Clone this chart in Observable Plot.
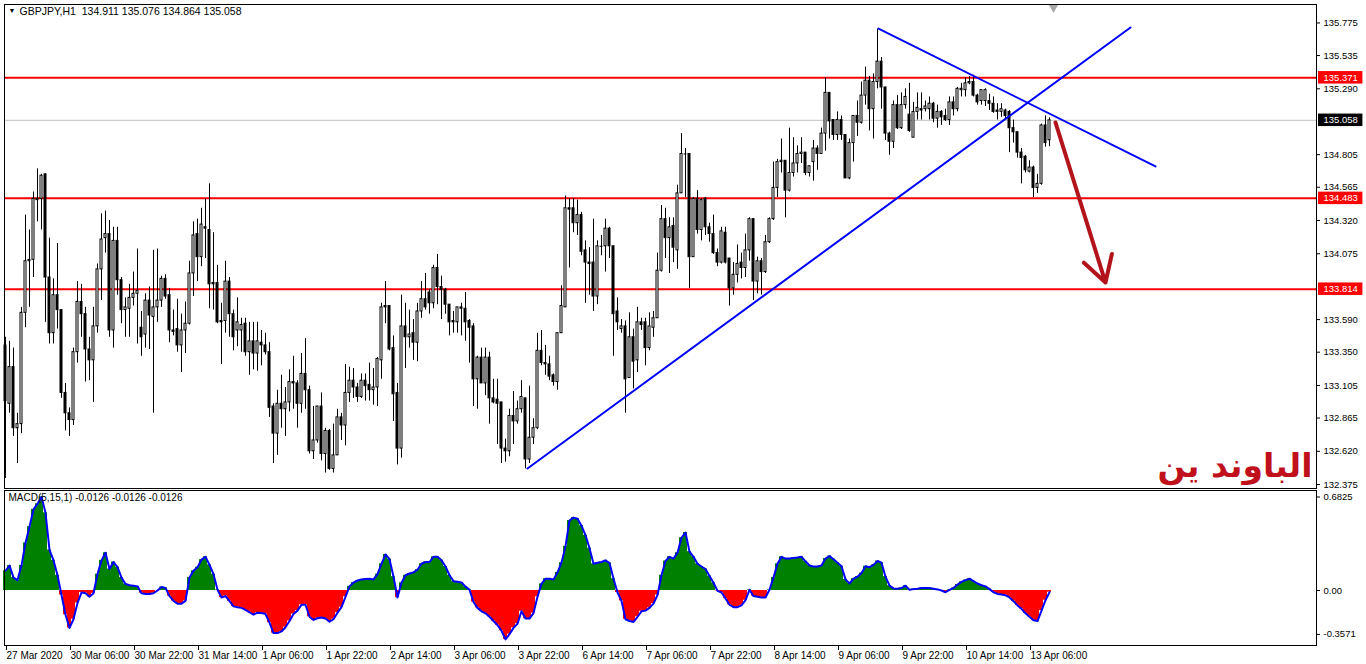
<!DOCTYPE html>
<html><head><meta charset="utf-8">
<script src="https://cdn.jsdelivr.net/npm/d3@7"></script>
<script src="https://cdn.jsdelivr.net/npm/@observablehq/plot@0.6"></script>
<style>
html,body{margin:0;padding:0;background:#fff;}
#chart{position:relative;width:1366px;height:664px;overflow:hidden;background:#fff;}
#chart svg{position:absolute;left:0;}
</style></head><body><div id="chart"></div>
<script>
const symbolHeader = "GBPJPY,H1  134.911 135.076 134.864 135.058";
const macdHeader = "MACD(5,15,1) -0.0126 -0.0126 -0.0126";
const annotation = "الباوند ين";

const open = [133.40,132.97,133.24,132.79,132.82,133.64,134.02,134.03,134.47,134.48,
134.66,133.90,133.49,133.77,133.66,133.05,132.90,132.85,133.35,133.72,
133.63,133.37,133.29,133.54,133.96,134.19,134.22,133.51,134.17,133.88,
133.66,133.67,133.75,133.78,133.53,133.48,133.73,133.61,133.68,133.73,
133.89,133.77,133.51,133.52,133.40,133.51,133.56,133.93,134.22,134.05,
134.27,134.25,133.86,133.86,133.58,133.58,133.87,133.63,133.51,133.51,
133.56,133.35,133.43,133.34,133.42,133.40,133.35,132.95,132.75,132.97,
132.93,132.98,133.13,133.12,132.97,133.19,133.07,132.62,132.70,132.95,
132.60,132.77,132.49,132.59,132.87,132.81,133.05,133.14,133.09,133.02,
133.14,133.11,133.07,133.09,133.29,133.69,133.69,133.38,133.05,132.64,
133.54,133.46,133.49,133.42,133.65,133.74,133.79,133.71,133.97,133.83,
133.81,133.70,133.58,133.57,133.68,133.67,133.58,133.54,133.15,133.31,
133.12,133.31,133.01,133.00,132.98,132.64,132.62,132.88,132.84,132.93,
133.01,132.56,132.72,132.79,133.36,133.27,133.26,133.18,133.13,133.49,
133.68,134.41,134.41,134.30,134.36,134.10,134.01,134.01,133.76,134.13,
134.13,134.26,134.13,133.65,133.52,133.54,133.16,133.46,133.29,133.57,
133.57,133.38,133.53,133.60,133.95,134.33,134.19,134.28,134.10,134.52,
134.81,134.81,134.05,134.48,134.25,134.48,134.27,134.22,134.08,134.01,
134.23,134.04,133.82,133.92,134.01,133.97,134.10,134.33,133.87,134.02,
133.94,134.16,134.33,134.56,134.75,134.76,134.54,134.67,134.74,134.81,
134.82,134.67,134.75,134.85,134.81,134.96,135.26,135.06,134.95,135.06,
134.95,134.63,134.89,135.09,135.04,135.24,135.35,135.14,135.34,135.49,
135.30,134.96,134.90,135.17,135.00,135.17,135.10,134.93,135.12,135.14,
135.14,135.14,135.18,135.07,135.12,135.09,135.06,135.19,135.14,135.28,
135.28,135.33,135.34,135.24,135.20,135.20,135.20,135.18,135.13,135.12,
135.13,135.12,135.00,134.97,134.82,134.79,134.68,134.71,134.56,134.59,
135.02,134.911];

const high = [133.46,133.43,133.38,132.90,133.68,134.36,134.25,134.53,134.70,134.66,
134.66,134.19,133.89,134.15,133.66,133.12,132.94,133.38,133.87,133.85,
133.68,133.46,133.68,134.00,134.37,134.39,134.32,134.27,134.27,133.90,
133.75,133.85,133.94,134.11,133.65,133.78,133.83,134.10,134.11,133.91,
133.92,133.82,133.66,133.74,133.63,133.72,134.02,134.31,134.33,134.41,
134.48,134.59,134.23,133.99,133.71,134.02,133.90,133.66,133.75,133.60,
133.60,133.57,133.57,133.57,133.51,133.49,133.42,132.97,133.07,133.18,
133.09,133.22,133.32,133.14,133.34,133.45,133.10,132.95,132.95,133.05,
132.79,132.78,132.82,132.93,132.90,133.26,133.24,133.23,133.12,133.19,
133.19,133.27,133.23,133.31,133.71,133.87,133.69,133.47,133.12,133.77,
133.71,133.66,133.59,133.71,133.87,133.93,133.81,133.99,134.07,133.91,
133.82,133.70,133.65,133.68,133.71,133.79,133.59,133.56,133.32,133.38,
133.38,133.35,133.15,133.15,132.98,132.71,132.93,133.06,132.99,133.14,
133.01,133.10,132.86,133.49,133.51,133.40,133.32,133.19,133.49,133.84,
134.50,134.48,134.48,134.47,134.38,134.17,134.12,134.33,134.17,134.21,
134.33,134.27,134.13,133.75,133.59,133.58,133.64,133.52,133.68,133.60,
133.60,133.64,133.65,134.08,134.43,134.41,134.34,134.34,134.58,134.96,
134.85,134.81,134.49,134.54,134.48,134.49,134.30,134.36,134.11,134.27,
134.27,134.04,134.01,134.14,134.08,134.22,134.34,134.33,134.05,134.04,
134.21,134.34,134.75,134.77,134.92,134.76,135.00,134.93,134.87,134.93,
134.82,134.72,134.91,134.87,135.00,135.37,135.26,135.06,135.12,135.09,
134.95,134.92,135.09,135.20,135.34,135.45,135.38,135.40,135.73,135.52,
135.30,134.97,135.20,135.24,135.26,135.29,135.33,135.19,135.26,135.26,
135.20,135.23,135.19,135.17,135.13,135.14,135.23,135.23,135.30,135.33,
135.37,135.38,135.39,135.25,135.28,135.29,135.25,135.23,135.18,135.18,
135.14,135.13,135.06,134.97,134.85,134.80,134.76,134.72,134.66,135.03,
135.09,135.076];

const low = [132.42,132.90,132.73,132.53,132.75,133.53,133.68,133.90,134.31,134.25,
133.57,133.41,133.41,133.52,133.01,132.77,132.73,132.81,133.27,133.46,
133.13,133.14,132.98,133.49,133.73,134.08,133.46,133.38,133.77,133.56,
133.46,133.46,133.69,133.41,133.32,133.38,133.37,132.90,133.57,133.68,
133.74,133.42,133.47,133.35,133.20,133.34,133.55,133.76,133.87,133.98,
134.04,133.67,133.66,133.56,133.26,133.49,133.46,133.36,133.39,133.35,
133.32,133.18,133.22,133.21,133.25,133.33,132.87,132.53,132.59,132.79,
132.73,132.91,132.93,132.79,132.90,132.93,132.60,132.56,132.68,132.55,
132.46,132.48,132.46,132.59,132.70,132.66,132.98,133.01,132.98,133.01,
132.99,132.99,132.96,132.95,133.15,133.56,133.36,132.84,132.52,132.57,
133.23,133.38,133.29,133.28,133.60,133.66,133.63,133.67,133.70,133.59,
133.63,133.47,133.49,133.49,133.47,133.43,133.27,132.95,132.93,133.12,
133.03,132.82,132.97,132.67,132.53,132.54,132.58,132.67,132.82,132.90,
132.49,132.53,132.67,132.78,133.25,133.18,133.14,133.10,133.07,133.49,
133.68,133.97,134.23,134.21,134.06,133.71,133.77,133.65,133.70,134.06,
133.94,134.04,133.32,133.51,133.49,132.90,133.16,133.08,133.20,133.51,
133.25,133.36,133.46,133.60,133.94,134.04,133.93,134.01,133.96,134.52,
134.49,133.82,134.05,134.22,134.17,134.21,134.16,134.07,133.98,134.00,
134.00,133.69,133.77,133.86,133.89,133.90,134.02,133.73,133.78,133.77,
133.93,134.15,134.32,134.49,134.67,134.34,134.53,134.64,134.67,134.74,
134.65,134.64,134.61,134.69,134.81,134.83,134.92,134.91,134.91,134.91,
134.63,134.62,134.75,134.94,135.03,135.17,134.98,134.92,135.29,135.14,
134.91,134.80,134.85,134.99,134.99,135.14,134.97,134.93,135.06,135.06,
135.12,135.06,135.04,135.00,135.02,135.05,135.02,135.09,135.12,135.23,
135.23,135.32,135.23,135.17,135.17,135.16,135.13,135.11,135.06,135.08,
135.06,134.82,134.89,134.78,134.59,134.67,134.67,134.49,134.52,134.58,
134.86,134.864];

const close = [132.99,133.24,132.79,132.82,133.64,134.02,134.03,134.48,134.48,134.65,
133.90,133.49,133.77,133.66,133.05,132.90,132.85,133.35,133.72,133.63,
133.37,133.29,133.54,133.96,134.18,134.22,133.51,134.17,133.88,133.66,
133.68,133.75,133.78,133.80,133.46,133.73,133.62,133.68,133.73,133.89,
133.76,133.51,133.50,133.40,133.51,133.56,133.93,134.21,134.05,134.29,
134.26,133.85,133.85,133.57,133.57,133.87,133.63,133.46,133.57,133.55,
133.35,133.43,133.34,133.43,133.40,133.35,132.94,132.75,132.97,132.93,
132.98,133.13,133.12,132.97,133.19,133.07,132.62,132.70,132.95,132.60,
132.77,132.49,132.59,132.87,132.81,133.05,133.14,133.09,133.02,133.14,
133.10,133.07,133.09,133.30,133.68,133.68,133.37,133.04,132.64,133.54,
133.46,133.48,133.42,133.65,133.74,133.68,133.71,133.97,133.83,133.81,
133.70,133.57,133.57,133.68,133.67,133.57,133.53,133.15,133.31,133.12,
133.31,133.01,132.98,132.97,132.64,132.62,132.88,132.84,132.93,133.02,
132.56,132.72,132.79,133.36,133.27,133.26,133.17,133.13,133.49,133.69,
134.41,134.40,134.30,134.36,134.09,134.01,134.00,133.76,134.13,134.13,
134.26,134.13,133.63,133.57,133.54,133.15,133.46,133.28,133.57,133.55,
133.38,133.54,133.60,133.95,134.33,134.19,134.27,134.12,134.52,134.81,
134.81,134.05,134.48,134.25,134.47,134.27,134.22,134.08,134.01,134.24,
134.01,133.82,133.92,134.00,133.97,134.10,134.33,133.87,134.02,133.94,
134.16,134.33,134.56,134.75,134.76,134.54,134.67,134.74,134.81,134.82,
134.67,134.72,134.85,134.81,134.96,135.26,135.05,134.95,135.06,134.95,
134.63,134.89,135.09,135.04,135.24,135.35,135.14,135.34,135.49,135.30,
134.96,134.90,135.17,135.00,135.17,135.23,134.98,135.12,135.15,135.13,
135.16,135.18,135.07,135.12,135.08,135.06,135.19,135.14,135.29,135.29,
135.33,135.34,135.24,135.19,135.28,135.28,135.18,135.12,135.12,135.14,
135.09,135.00,134.97,134.82,134.78,134.69,134.71,134.56,134.59,135.02,
134.89,135.058];

const macd = [0.144,0.182,0.094,0.076,0.182,0.347,0.466,0.592,0.633,0.6825,
0.567,0.296,0.220,0.111,-0.033,-0.177,-0.273,-0.210,-0.091,-0.015,
-0.020,-0.046,-0.020,0.119,0.220,0.276,0.157,0.208,0.170,0.094,
0.048,0.038,0.035,0.030,-0.020,-0.025,-0.025,-0.020,0.000,0.025,
0.018,-0.041,-0.076,-0.096,-0.096,-0.076,0.094,0.144,0.170,0.225,
0.246,0.187,0.119,0.005,-0.051,-0.041,-0.078,-0.116,-0.122,-0.127,
-0.142,-0.159,-0.177,-0.162,-0.165,-0.172,-0.235,-0.311,-0.311,-0.299,
-0.268,-0.223,-0.172,-0.147,-0.104,-0.104,-0.192,-0.215,-0.203,-0.197,
-0.205,-0.228,-0.210,-0.162,-0.122,-0.046,0.030,0.058,0.073,0.081,
0.084,0.086,0.081,0.119,0.195,0.263,0.228,0.101,-0.051,0.056,
0.111,0.124,0.132,0.152,0.195,0.208,0.208,0.246,0.246,0.220,
0.175,0.111,0.068,0.063,0.058,0.028,0.005,-0.084,-0.127,-0.152,
-0.167,-0.192,-0.223,-0.253,-0.294,-0.3571,-0.319,-0.273,-0.243,-0.152,
-0.205,-0.205,-0.165,-0.046,0.048,0.086,0.086,0.081,0.132,0.203,
0.322,0.511,0.532,0.524,0.473,0.403,0.309,0.195,0.203,0.208,
0.220,0.200,0.086,-0.015,-0.076,-0.210,-0.223,-0.230,-0.192,-0.152,
-0.147,-0.127,-0.096,-0.033,0.111,0.215,0.246,0.233,0.276,0.385,
0.423,0.284,0.246,0.195,0.175,0.157,0.106,0.056,-0.003,-0.015,
-0.058,-0.104,-0.122,-0.122,-0.109,-0.071,0.005,-0.041,-0.046,-0.051,
-0.051,0.005,0.094,0.195,0.246,0.233,0.233,0.238,0.241,0.246,
0.213,0.182,0.175,0.175,0.182,0.233,0.251,0.228,0.203,0.177,
0.081,0.051,0.086,0.101,0.127,0.177,0.170,0.187,0.215,0.203,
0.101,0.035,0.015,0.013,0.018,0.035,0.005,0.010,0.013,0.018,
0.018,0.018,0.013,0.008,0.000,-0.013,0.005,0.018,0.043,0.063,
0.076,0.086,0.068,0.051,0.038,0.030,0.010,-0.013,-0.025,-0.030,
-0.035,-0.051,-0.078,-0.109,-0.134,-0.167,-0.192,-0.218,-0.223,-0.147,
-0.071,-0.0126];

const timeTickIndex = [0,16,32,48,64,80,96,112,128,144,160,176,192,208,224,240,256];
const timeTickLabels = ["27 Mar 2020","30 Mar 06:00","30 Mar 22:00","31 Mar 14:00","1 Apr 06:00",
  "1 Apr 22:00","2 Apr 14:00","3 Apr 06:00","3 Apr 22:00","6 Apr 14:00","7 Apr 06:00",
  "7 Apr 22:00","8 Apr 14:00","9 Apr 06:00","9 Apr 22:00","10 Apr 14:00","13 Apr 06:00"];
const priceTicks = [135.775,135.535,135.290,134.805,134.565,134.320,134.075,133.590,133.350,133.105,132.865,132.620,132.375];
const levelLines = [135.371, 134.483, 133.814];
const currentPrice = 135.058;
const priceDomain = [132.346, 135.911];
const macdDomain = [-0.3571, 0.6825];
const macdAxisTicks = [0.6825, 0];
const macdAxisBottom = [-0.3571];
const risingTrend = [{bar: 130.5, price: 132.493}, {bar: 281.25, price: 135.742}];
const fallingTrend = [{bar: 218.25, price: 135.734}, {bar: 287.5, price: 134.718}];
const arrowPath = [{bar1: 262.5, price1: 135.042, bar2: 275, price2: 133.863}];

const bars = open.map((o, i) => ({i, o, h: high[i], l: low[i], c: close[i]}));
const macdBars = macd.map((v, i) => ({i, v}));
const xDomain = [-0.25, 327.75];
const boxX1 = xDomain[1] + 0.5, boxX2 = xDomain[1] + 11.6, boxXc = (boxX1 + boxX2) / 2;
const boxHalf = 0.046;
const priceBoxes = [
  ...levelLines.map(p => ({p, fill: "#ff0000"})),
  {p: currentPrice, fill: "#000000"}
];
const font = "'Liberation Sans', Arial, sans-serif";
const W = 1366;

const mainPlot = Plot.plot({
  width: W, height: 490,
  marginLeft: 4, marginRight: 50, marginTop: 4, marginBottom: 2,
  x: {domain: xDomain, axis: null},
  y: {domain: priceDomain},
  style: {fontFamily: font, fontSize: "10px", background: "transparent", color: "#000"},
  marks: [
    Plot.ruleY([currentPrice], {stroke: "#c0c0c0"}),
    Plot.ruleY(levelLines, {stroke: "#ff0000", strokeWidth: 2}),
    Plot.ruleX(bars, {x: "i", y1: "l", y2: "h", stroke: "#000"}),
    Plot.rect(bars, {x1: d => d.i - 0.25, x2: d => d.i + 0.25, y1: "o", y2: "c",
      fill: d => d.c >= d.o ? "#fff" : "#000", stroke: "#000"}),
    Plot.ruleY(bars.filter(d => Math.abs(d.c - d.o) < 0.006), {y: "c", x1: d => d.i - 0.375, x2: d => d.i + 0.375, stroke: "#000"}),
    Plot.line(risingTrend, {x: "bar", y: "price", stroke: "#0000ff", strokeWidth: 2}),
    Plot.line(fallingTrend, {x: "bar", y: "price", stroke: "#0000ff", strokeWidth: 2}),
    Plot.arrow(arrowPath, {x1: "bar1", y1: "price1", x2: "bar2", y2: "price2", stroke: "#b3141c", strokeWidth: 4, headLength: 11}),
    Plot.dot([close.length], {x: d => d, frameAnchor: "top", dy: 3, symbol: "triangle", rotate: 180, r: 3.5, fill: "#a8a8a8", stroke: null}),
    Plot.frame({stroke: "#000"}),
    Plot.axisY(priceTicks, {anchor: "right", tickSize: 3, tickPadding: 4, tickFormat: d => d.toFixed(3), fontSize: 9.5, label: null}),
    Plot.rect(priceBoxes, {x1: boxX1, x2: boxX2, y1: d => d.p - boxHalf, y2: d => d.p + boxHalf, fill: "fill"}),
    Plot.text(priceBoxes, {x: boxXc, y: "p", text: d => d.p.toFixed(3), fill: "#fff", fontSize: 9.5}),
    Plot.text(["▼"], {text: d => d, frameAnchor: "top-left", dx: 4, dy: 4, lineAnchor: "top", textAnchor: "start", fontSize: 7}),
    Plot.text([symbolHeader], {text: d => d, frameAnchor: "top-left", dx: 15, dy: 3, lineAnchor: "top", textAnchor: "start", fontSize: 10.5}),
    Plot.text([annotation], {text: d => d, frameAnchor: "bottom-right", dx: -4, dy: -12, lineAnchor: "bottom", textAnchor: "end",
      fontSize: 33, fontWeight: "bold", fontFamily: "'DejaVu Sans', sans-serif", fill: "#c0101c"})
  ]
});
mainPlot.style.top = "0px";

const macdPlot = Plot.plot({
  width: W, height: 175,
  marginLeft: 4, marginRight: 50, marginTop: 1, marginBottom: 19,
  x: {domain: xDomain},
  y: {domain: macdDomain, range: [149.9, 7.5]},
  style: {fontFamily: font, fontSize: "10px", background: "transparent", color: "#000"},
  marks: [
    Plot.rect(macdBars, {x1: d => d.i - 0.5, x2: d => d.i + 0.5, y1: 0, y2: "v",
      fill: d => d.v >= 0 ? "#008000" : "#ff0000"}),
    Plot.line(macdBars, {x: "i", y: "v", stroke: "#0000ff", strokeWidth: 2}),
    Plot.frame({stroke: "#000"}),
    Plot.axisX(timeTickIndex, {anchor: "bottom", tickSize: 5, tickPadding: 1,
      tickFormat: d => timeTickLabels[timeTickIndex.indexOf(d)], textAnchor: "start", dx: 1, fontSize: 10, label: null}),
    Plot.axisY(macdAxisTicks, {anchor: "right", tickSize: 3, tickPadding: 4,
      tickFormat: d => d === 0 ? "0.00" : d.toFixed(4), fontSize: 9.5, label: null}),
    Plot.axisY(macdAxisBottom, {anchor: "right", tickSize: 3, tickPadding: 4, dy: -5,
      tickFormat: d => d.toFixed(4), fontSize: 9.5, label: null}),
    Plot.text([macdHeader], {text: d => d, frameAnchor: "top-left", dx: 4, dy: 3, lineAnchor: "top", textAnchor: "start", fontSize: 10})
  ]
});
macdPlot.style.top = "489px";

const root = document.getElementById("chart");
root.append(mainPlot, macdPlot);
</script>
</body></html>
